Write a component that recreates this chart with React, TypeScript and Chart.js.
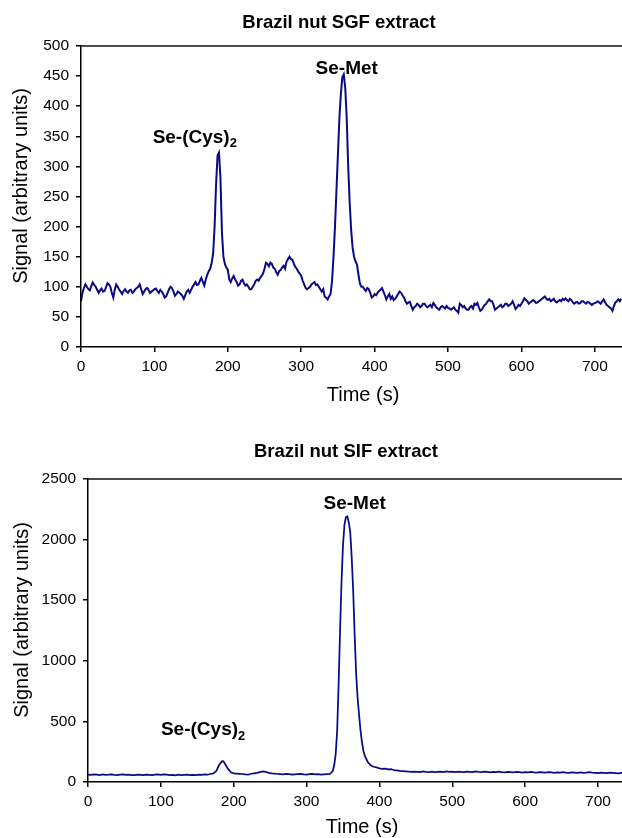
import React, { useEffect, useRef } from 'react';
import { Chart, registerables } from 'chart.js';
Chart.register(...registerables);

// ---------- DATA ----------
// Brazil nut SGF extract: [time (s), signal]
const sgfTrace: [number, number][] = [
  [0, 76], [2, 90], [4, 98], [6, 104], [8, 100], [10, 96], [12, 94], [14, 101], [16, 107], [18, 103],
  [20, 100], [22, 95], [24, 90], [26, 94], [28, 97], [30, 92], [32, 93], [34, 99], [36, 106], [38, 104],
  [40, 100], [42, 90], [44, 82], [46, 95], [48, 104], [50, 100], [52, 95], [54, 92], [56, 88], [58, 93],
  [60, 96], [62, 92], [64, 90], [66, 94], [68, 95], [70, 90], [72, 92], [74, 96], [76, 98], [78, 100],
  [80, 104], [82, 96], [84, 88], [86, 92], [88, 96], [90, 98], [92, 95], [94, 90], [96, 92], [98, 94],
  [100, 96], [102, 97], [104, 93], [106, 90], [108, 95], [110, 92], [112, 88], [114, 82], [116, 84], [118, 90],
  [120, 96], [122, 100], [124, 98], [126, 92], [128, 85], [130, 88], [132, 92], [134, 90], [136, 88], [138, 85],
  [140, 80], [142, 86], [144, 92], [146, 95], [148, 90], [150, 95], [152, 100], [154, 104], [156, 108], [158, 103],
  [160, 104], [162, 110], [164, 115], [166, 108], [168, 102], [170, 112], [172, 120], [174, 126], [176, 130], [178, 140],
  [180, 155], [182, 200], [184, 270], [186, 318], [188, 323], [190, 280], [192, 190], [194, 150], [196, 138], [198, 132],
  [200, 128], [202, 112], [204, 108], [206, 114], [208, 118], [210, 112], [212, 108], [214, 102], [216, 104], [218, 110],
  [220, 112], [222, 106], [224, 102], [226, 104], [228, 100], [230, 96], [232, 96], [234, 100], [236, 104], [238, 110],
  [240, 112], [242, 110], [244, 115], [246, 118], [248, 122], [250, 130], [252, 140], [254, 138], [256, 134], [258, 140],
  [260, 138], [262, 132], [264, 130], [266, 124], [268, 120], [270, 126], [272, 128], [274, 132], [276, 135], [278, 130],
  [280, 142], [282, 146], [284, 150], [286, 146], [288, 145], [290, 138], [292, 133], [294, 130], [296, 125], [298, 122],
  [300, 118], [302, 110], [304, 104], [306, 98], [308, 96], [310, 98], [312, 100], [314, 104], [316, 106], [318, 108],
  [320, 103], [322, 104], [324, 100], [326, 96], [328, 92], [330, 96], [332, 84], [334, 82], [336, 79], [338, 84],
  [340, 88], [342, 110], [344, 150], [346, 200], [348, 260], [350, 320], [352, 380], [354, 420], [356, 448], [358, 453],
  [360, 430], [362, 380], [364, 300], [366, 240], [368, 195], [370, 165], [372, 150], [374, 142], [376, 137], [378, 120],
  [380, 105], [382, 100], [384, 100], [386, 96], [388, 93], [390, 98], [392, 96], [394, 90], [396, 82], [398, 84],
  [400, 88], [402, 86], [404, 90], [406, 93], [408, 95], [410, 98], [412, 92], [414, 86], [416, 79], [418, 84],
  [420, 88], [422, 80], [424, 84], [426, 78], [428, 80], [430, 84], [432, 88], [434, 92], [436, 90], [438, 86],
  [440, 82], [442, 76], [444, 72], [446, 74], [448, 75], [450, 68], [452, 62], [454, 66], [456, 68], [458, 72],
  [460, 70], [462, 66], [464, 68], [466, 72], [468, 72], [470, 68], [472, 66], [474, 68], [476, 70], [478, 66],
  [480, 73], [482, 70], [484, 66], [486, 64], [488, 62], [490, 66], [492, 68], [494, 66], [496, 64], [498, 68],
  [500, 65], [502, 64], [504, 62], [506, 64], [508, 66], [510, 62], [512, 60], [514, 57], [516, 72], [518, 70],
  [520, 66], [522, 68], [524, 64], [526, 62], [528, 62], [530, 66], [532, 68], [534, 64], [536, 72], [538, 70],
  [540, 73], [542, 66], [544, 60], [546, 62], [548, 66], [550, 70], [552, 72], [554, 76], [556, 79], [558, 76],
  [560, 76], [562, 70], [564, 62], [566, 64], [568, 66], [570, 68], [572, 70], [574, 66], [576, 68], [578, 72],
  [580, 72], [582, 68], [584, 70], [586, 72], [588, 76], [590, 70], [592, 63], [594, 66], [596, 70], [598, 68],
  [600, 72], [602, 76], [604, 81], [606, 78], [608, 76], [610, 72], [612, 74], [614, 76], [616, 78], [618, 76],
  [620, 73], [622, 74], [624, 76], [626, 78], [628, 80], [630, 82], [632, 84], [634, 80], [636, 78], [638, 80],
  [640, 76], [642, 78], [644, 80], [646, 76], [648, 74], [650, 76], [652, 78], [654, 76], [656, 80], [658, 78],
  [660, 81], [662, 78], [664, 76], [666, 80], [668, 78], [670, 74], [672, 72], [674, 74], [676, 75], [678, 72],
  [680, 73], [682, 76], [684, 76], [686, 74], [688, 72], [690, 75], [692, 74], [694, 72], [696, 70], [698, 72],
  [700, 73], [702, 74], [704, 76], [706, 74], [708, 72], [710, 76], [712, 79], [714, 74], [716, 70], [718, 68],
  [720, 66], [722, 64], [724, 60], [726, 68], [728, 74], [730, 76], [732, 79], [734, 76], [736, 80],
];

// Brazil nut SIF extract: [time (s), signal]
const sifTrace: [number, number][] = [
  [0, 60], [4, 58], [8, 62], [12, 60], [16, 57], [20, 62], [24, 58], [28, 60], [32, 63], [36, 58],
  [40, 57], [44, 60], [48, 62], [52, 58], [56, 60], [60, 57], [64, 56], [68, 60], [72, 59], [76, 57],
  [80, 60], [84, 58], [88, 56], [92, 60], [96, 62], [100, 58], [104, 62], [108, 60], [112, 57], [116, 58],
  [120, 55], [124, 60], [128, 56], [132, 58], [136, 60], [140, 56], [144, 58], [148, 57], [152, 60], [156, 58],
  [160, 62], [164, 60], [168, 66], [172, 70], [176, 90], [180, 140], [184, 172], [186, 170], [188, 150], [192, 110],
  [196, 80], [200, 72], [204, 70], [208, 68], [212, 66], [216, 62], [220, 60], [224, 68], [228, 72], [232, 76],
  [236, 82], [240, 88], [244, 84], [248, 76], [252, 72], [256, 70], [260, 66], [264, 64], [268, 62], [272, 66],
  [276, 64], [280, 60], [284, 62], [288, 64], [292, 66], [296, 62], [300, 60], [304, 64], [308, 66], [312, 62],
  [316, 64], [320, 60], [324, 62], [328, 64], [332, 66], [336, 90], [338, 140], [340, 230], [342, 420], [344, 800],
  [346, 1250], [348, 1650], [350, 1950], [352, 2120], [354, 2185], [356, 2190], [358, 2140], [360, 2060], [362, 1850], [364, 1580],
  [366, 1220], [368, 900], [370, 700], [372, 560], [374, 430], [376, 330], [378, 260], [380, 215], [384, 165], [388, 138],
  [392, 126], [396, 120], [400, 112], [404, 108], [408, 110], [412, 104], [416, 106], [420, 98], [424, 95], [428, 92],
  [432, 90], [436, 88], [440, 86], [444, 84], [448, 86], [452, 84], [456, 82], [460, 88], [464, 84], [468, 82],
  [472, 86], [476, 82], [480, 84], [484, 86], [488, 82], [492, 88], [496, 84], [500, 86], [504, 82], [508, 86],
  [512, 84], [516, 82], [520, 86], [524, 84], [528, 82], [532, 88], [536, 84], [540, 82], [544, 86], [548, 84],
  [552, 80], [556, 84], [560, 82], [564, 86], [568, 82], [572, 80], [576, 84], [580, 82], [584, 80], [588, 84],
  [592, 82], [596, 78], [600, 82], [604, 80], [608, 84], [612, 80], [616, 78], [620, 82], [624, 80], [628, 78],
  [632, 82], [636, 80], [640, 76], [644, 80], [648, 78], [652, 82], [656, 78], [660, 76], [664, 80], [668, 78],
  [672, 76], [676, 80], [680, 76], [684, 78], [688, 82], [692, 78], [696, 76], [700, 74], [704, 78], [708, 76],
  [712, 74], [716, 78], [720, 76], [724, 74], [728, 72], [732, 76], [736, 74],
];

const xTickValues = [0, 100, 200, 300, 400, 500, 600, 700];
const sgfYTickValues = [0, 50, 100, 150, 200, 250, 300, 350, 400, 450, 500];
const sifYTickValues = [0, 500, 1000, 1500, 2000, 2500];

const sgfTitle = 'Brazil nut SGF extract';
const sifTitle = 'Brazil nut SIF extract';
const xAxisTitle = 'Time (s)';
const yAxisTitle = 'Signal (arbitrary units)';

// peak labels: text, subscript, time, signal (label centre)
const sgfLabels = [
  { text: 'Se-(Cys)', sub: '2', x: 155, y: 348 },
  { text: 'Se-Met', sub: '', x: 362, y: 462 },
];
const sifLabels = [
  { text: 'Se-(Cys)', sub: '2', x: 158, y: 429 },
  { text: 'Se-Met', sub: '', x: 366, y: 2294 },
];

// ---------- CHART ----------
const FAMILY = 'Arial, "Liberation Sans", Helvetica, sans-serif';
const LINE_COLOR = '#0a0a84';

type PanelCfg = {
  trace: [number, number][];
  yTicks: number[];
  yMax: number;
  xMax: number;
  title: string;
  labels: { text: string; sub: string; x: number; y: number }[];
  height: number;
  padTop: number;
  yWidth: number;
  xHeight: number;
  lineWidth: number;
  titlePos: [number, number];
  xTitlePos: [number, number];
  yTitlePos: [number, number];
};

function makeOverlay(cfg: PanelCfg) {
  return {
    id: 'overlay',
    afterDraw(chart: any) {
      const { ctx, chartArea, scales } = chart;
      ctx.save();
      // top frame line
      ctx.strokeStyle = '#111';
      ctx.lineWidth = 1.5;
      ctx.beginPath();
      ctx.moveTo(chartArea.left, chartArea.top);
      ctx.lineTo(chartArea.right, chartArea.top);
      ctx.stroke();

      ctx.fillStyle = '#000';
      ctx.textBaseline = 'middle';
      ctx.textAlign = 'center';
      ctx.font = `bold 18.5px ${FAMILY}`;
      ctx.fillText(cfg.title, cfg.titlePos[0], cfg.titlePos[1]);

      ctx.font = `20px ${FAMILY}`;
      ctx.fillText(xAxisTitle, cfg.xTitlePos[0], cfg.xTitlePos[1]);

      ctx.save();
      ctx.translate(cfg.yTitlePos[0], cfg.yTitlePos[1]);
      ctx.rotate(-Math.PI / 2);
      ctx.fillText(yAxisTitle, 0, 0);
      ctx.restore();

      // peak labels
      for (const l of cfg.labels) {
        const px = scales.x.getPixelForValue(l.x);
        const py = scales.y.getPixelForValue(l.y);
        ctx.font = `bold 19px ${FAMILY}`;
        const w1 = ctx.measureText(l.text).width;
        ctx.font = `bold 13px ${FAMILY}`;
        const w2 = l.sub ? ctx.measureText(l.sub).width : 0;
        const start = px - (w1 + w2) / 2;
        ctx.textAlign = 'left';
        ctx.font = `bold 19px ${FAMILY}`;
        ctx.fillText(l.text, start, py);
        if (l.sub) {
          ctx.font = `bold 13px ${FAMILY}`;
          ctx.fillText(l.sub, start + w1, py + 6);
        }
      }
      ctx.restore();
    },
  };
}

function Panel({ cfg, top }: { cfg: PanelCfg; top: number }) {
  const ref = useRef<HTMLCanvasElement | null>(null);
  useEffect(() => {
    if (!ref.current) return;
    const tickFont = { size: 15.5, family: FAMILY };
    const chart = new Chart(ref.current, {
      type: 'line',
      data: {
        datasets: [
          {
            data: cfg.trace.map(([x, y]) => ({ x, y })),
            borderColor: LINE_COLOR,
            borderWidth: cfg.lineWidth,
            pointRadius: 0,
            tension: 0,
            fill: false,
          },
        ],
      },
      options: {
        animation: false,
        responsive: false,
        layout: { padding: { top: cfg.padTop, left: 0, right: 0, bottom: 0 } },
        plugins: {
          legend: { display: false },
          tooltip: { enabled: false },
          title: { display: false },
        },
        scales: {
          x: {
            type: 'linear',
            min: 0,
            max: cfg.xMax,
            afterBuildTicks: (s: any) => {
              s.ticks = xTickValues.map((v) => ({ value: v }));
            },
            afterFit: (s: any) => {
              s.height = cfg.xHeight;
            },
            grid: {
              display: true,
              drawOnChartArea: false,
              drawTicks: true,
              tickLength: 5,
              color: '#000',
              lineWidth: 1.5,
            },
            border: { display: true, color: '#000', width: 1.5 },
            ticks: {
              color: '#000',
              font: tickFont,
              padding: 5,
              maxRotation: 0,
              autoSkip: false,
              includeBounds: false,
              callback: (v: any) => String(v),
            },
          },
          y: {
            type: 'linear',
            min: 0,
            max: cfg.yMax,
            afterBuildTicks: (s: any) => {
              s.ticks = cfg.yTicks.map((v) => ({ value: v }));
            },
            afterFit: (s: any) => {
              s.width = cfg.yWidth;
            },
            grid: {
              display: true,
              drawOnChartArea: false,
              drawTicks: true,
              tickLength: 5,
              color: '#000',
              lineWidth: 1.5,
            },
            border: { display: true, color: '#000', width: 1.5 },
            ticks: { color: '#000', font: tickFont, padding: 7, autoSkip: false, callback: (v: any) => String(v) },
          },
        },
      },
      plugins: [makeOverlay(cfg)],
    } as any);
    return () => chart.destroy();
  }, [cfg]);
  return (
    <canvas
      ref={ref}
      width={622}
      height={cfg.height}
      style={{ position: 'absolute', left: 0, top, width: 622, height: cfg.height, display: 'block' }}
    />
  );
}

const sgfCfg: PanelCfg = {
  trace: sgfTrace,
  yTicks: sgfYTickValues,
  yMax: 500,
  xMax: 737,
  title: sgfTitle,
  labels: sgfLabels,
  height: 420,
  padTop: 46,
  yWidth: 81,
  xHeight: 73,
  lineWidth: 2,
  titlePos: [339, 22.5],
  xTitlePos: [363, 395],
  yTitlePos: [21, 186],
};

const sifCfg: PanelCfg = {
  trace: sifTrace,
  yTicks: sifYTickValues,
  yMax: 2500,
  xMax: 733,
  title: sifTitle,
  labels: sifLabels,
  height: 418,
  padTop: 59,
  yWidth: 88,
  xHeight: 56,
  lineWidth: 1.75,
  titlePos: [346, 32],
  xTitlePos: [362, 407],
  yTitlePos: [22, 200],
};

export default function App() {
  return (
    <div style={{ position: 'absolute', left: 0, top: 0, width: 622, height: 838, background: '#fff' }}>
      <Panel cfg={sgfCfg} top={0} />
      <Panel cfg={sifCfg} top={420} />
    </div>
  );
}
